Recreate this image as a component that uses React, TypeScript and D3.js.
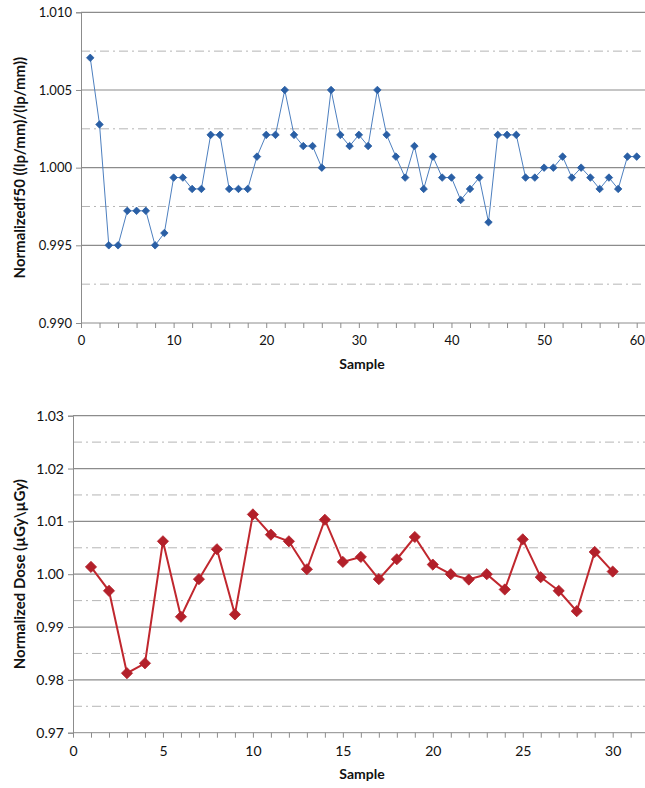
import React, { useEffect, useRef } from "react";
import * as d3 from "d3";

// top chart: normalized f50, samples 1..60
const f50Values = [
  1.00707, 1.00278, 0.9950, 0.9950, 0.99722, 0.99722, 0.99722, 0.9950, 0.99579, 0.99936,
  0.99936, 0.99863, 0.99863, 1.00211, 1.00211, 0.99863, 0.99863, 0.99863, 1.00071, 1.00211,
  1.00211, 1.0050, 1.00211, 1.00139, 1.00139, 1.0000, 1.0050, 1.00211, 1.00139, 1.00211,
  1.00139, 1.0050, 1.00211, 1.00071, 0.99936, 1.00139, 0.99863, 1.00071, 0.99936, 0.99936,
  0.99792, 0.99863, 0.99936, 0.99649, 1.00211, 1.00211, 1.00211, 0.99936, 0.99936, 1.0000,
  1.0000, 1.00071, 0.99936, 1.0000, 0.99936, 0.99863, 0.99936, 0.99863, 1.00071, 1.00071,
];
const f50MajorTicks = [0.99, 0.995, 1.0, 1.005, 1.01];
const f50MinorTicks = [0.9925, 0.9975, 1.0025, 1.0075];
const f50XLabels = [0, 10, 20, 30, 40, 50, 60];

// bottom chart: normalized dose, samples 1..30
const doseValues = [
  1.00138, 0.99686, 0.98126, 0.98314, 1.00623, 0.99195, 0.99906, 1.00472, 0.99239, 1.01132,
  1.00748, 1.00623, 1.00094, 1.01031, 1.00233, 1.00327, 0.99906, 1.00283, 1.00704, 1.00182,
  1.0000, 0.99899, 1.0000, 0.99711, 1.0066, 0.99943, 0.99686, 0.99300, 1.00421, 1.00050,
];
const doseMajorTicks = [0.97, 0.98, 0.99, 1.0, 1.01, 1.02, 1.03];
const doseMinorTicks = [0.975, 0.985, 0.995, 1.005, 1.015, 1.025];
const doseXLabels = [0, 5, 10, 15, 20, 25, 30];

const FONT = "Lato, 'Open Sans', sans-serif";

function drawChart(g, opts) {
  const { values, left, right, top, bottom, xMax, yDomain, major, minor, xTicks, xLabels,
    yFormat, color, lineColor, lineWidth, markerSize, title, labelSize, titleSize } = opts;

  const x = d3.scaleLinear().domain([0, xMax]).range([left, right]);
  const y = d3.scaleLinear().domain(yDomain).range([bottom, top]);

  // minor grid, dash-dot
  g.selectAll(null).data(minor).join("line")
    .attr("x1", left).attr("x2", 645)
    .attr("y1", d => y(d)).attr("y2", d => y(d))
    .attr("stroke", "#b5b5b5").attr("stroke-width", 1)
    .attr("stroke-dasharray", "9,4,2,4");

  // major grid
  g.selectAll(null).data(major.slice(1)).join("line")
    .attr("x1", left).attr("x2", 645)
    .attr("y1", d => y(d)).attr("y2", d => y(d))
    .attr("stroke", "#8c8c8c").attr("stroke-width", 1.2);

  const yAxis = g.append("g").attr("transform", `translate(${left},0)`)
    .call(d3.axisLeft(y).tickValues(major).tickSize(5).tickFormat(yFormat));
  yAxis.select(".domain").attr("stroke", "#8c8c8c");
  yAxis.selectAll(".tick line").attr("stroke", "#8c8c8c");
  yAxis.selectAll("text").attr("font-family", FONT).attr("font-size", labelSize)
    .attr("fill", "#111").attr("dx", -1);

  const xAxis = g.append("g").attr("transform", `translate(0,${bottom})`)
    .call(d3.axisBottom(x).tickValues(xTicks).tickSize(5)
      .tickFormat(d => (xLabels.includes(d) ? String(d) : "")));
  xAxis.select(".domain").attr("stroke", "#8c8c8c").attr("d", `M${left},0H645`);
  xAxis.selectAll(".tick line").attr("stroke", "#8c8c8c");
  xAxis.selectAll("text").attr("font-family", FONT).attr("font-size", labelSize)
    .attr("fill", "#111").attr("dy", "1.1em");

  const pts = values.map((v, i) => [i + 1, v]);
  const line = d3.line().x(d => x(d[0])).y(d => y(d[1]));
  g.append("path").datum(pts).attr("d", line)
    .attr("fill", "none").attr("stroke", lineColor).attr("stroke-width", lineWidth);

  const diamond = d3.symbol().type(d3.symbolDiamond2).size(markerSize);
  g.selectAll(null).data(pts).join("path")
    .attr("d", diamond)
    .attr("transform", d => `translate(${x(d[0])},${y(d[1])})`)
    .attr("fill", color).attr("stroke", color).attr("stroke-width", 0.8);

  g.append("text")
    .attr("transform", `translate(20,${(top + bottom) / 2}) rotate(-90)`)
    .attr("text-anchor", "middle").attr("dy", "0.35em")
    .attr("font-family", FONT).attr("font-weight", "bold").attr("font-size", titleSize)
    .attr("fill", "#111").text(title);

  g.append("text")
    .attr("x", 362).attr("y", bottom + 46)
    .attr("text-anchor", "middle")
    .attr("font-family", FONT).attr("font-weight", "bold").attr("font-size", 14)
    .attr("fill", "#111").text("Sample");
}

export default function App() {
  const ref = useRef(null);

  useEffect(() => {
    const svg = d3.select(ref.current);
    svg.selectAll("*").remove();
    svg.append("rect").attr("width", 645).attr("height", 788).attr("fill", "#fff");

    drawChart(svg.append("g"), {
      values: f50Values, left: 81, right: 636.7, top: 12.3, bottom: 323,
      xMax: 60, yDomain: [0.99, 1.01], major: f50MajorTicks, minor: f50MinorTicks,
      xTicks: d3.range(0, 62, 2), xLabels: f50XLabels, yFormat: d3.format(".3f"),
      color: "#2a5fa5", lineColor: "#4d7fbf", lineWidth: 1, markerSize: 36,
      title: "Normalizedf50 ((lp/mm)/(lp/mm))", labelSize: 13, titleSize: 15,
    });

    drawChart(svg.append("g"), {
      values: doseValues, left: 73, right: 612.7, top: 415.7, bottom: 732.7,
      xMax: 30, yDomain: [0.97, 1.03], major: doseMajorTicks, minor: doseMinorTicks,
      xTicks: d3.range(0, 32, 1), xLabels: doseXLabels, yFormat: d3.format(".2f"),
      color: "#b3202a", lineColor: "#c0272e", lineWidth: 2, markerSize: 80,
      title: "Normalized Dose (\u00b5Gy\\\u00b5Gy)", labelSize: 14, titleSize: 15,
    });
  }, []);

  return (
    <svg ref={ref} width={645} height={788}
      style={{ position: "absolute", left: 0, top: 0, display: "block" }} />
  );
}
